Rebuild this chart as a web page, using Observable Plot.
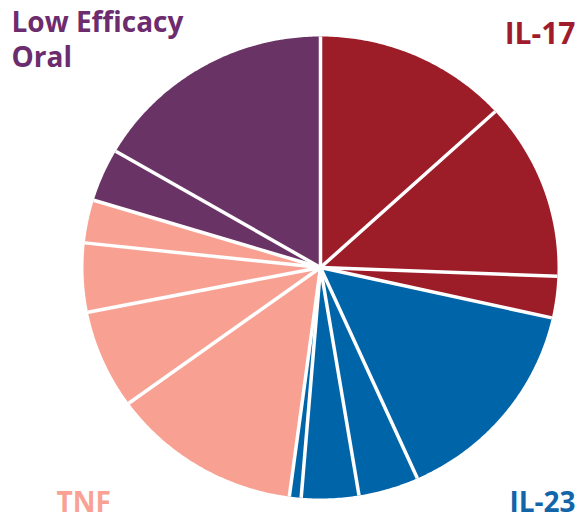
<!DOCTYPE html>
<html><head><meta charset="utf-8">
<script src="https://cdn.jsdelivr.net/npm/d3@7"></script>
<script src="https://cdn.jsdelivr.net/npm/@observablehq/plot@0.6"></script>
<style>body{margin:0;background:#fff} #chart svg{display:block}</style>
</head><body><div id="chart"></div>
<script>
// Slices, clockwise from 12 o'clock (percent of whole)
const sliceGroups = ["IL-17","IL-17","IL-17","IL-23","IL-23","IL-23","IL-23","TNF","TNF","TNF","TNF","Low Efficacy Oral","Low Efficacy Oral"];
const sliceValues = [13.2, 12.4, 2.9, 14.8, 4.1, 3.9, 0.8, 12.9, 6.9, 4.8, 3.0, 3.7, 16.6];

const groupNames  = ["IL-17", "IL-23", "TNF", "Low Efficacy Oral"];
const groupColors = ["#9c1c28", "#0064a8", "#f8a192", "#6a3366"];
const labelColors = ["#a01c2c", "#1265a8", "#f9a294", "#6c2c6e"];
const labelTexts  = ["IL-17", "IL-23", "TNF", "Low Efficacy\nOral"];

const W = 580, H = 519;
const cx = 320, cy = 267, rx = 237, ry = 231;

const arcs = d3.pie().sort(null).value(d => d)(sliceValues);
const poly = [];
const seps = [];
arcs.forEach((a, i) => {
  const g = sliceGroups[i];
  poly.push({i, g, x: 0, y: 0});
  const n = Math.max(2, Math.ceil((a.endAngle - a.startAngle) / 0.01));
  for (let k = 0; k <= n; k++) {
    const t = a.startAngle + (a.endAngle - a.startAngle) * k / n;
    poly.push({i, g, x: Math.sin(t), y: Math.cos(t)});
  }
  poly.push({i, g, x: 0, y: 0});
  seps.push({x: Math.sin(a.startAngle), y: Math.cos(a.startAngle)});
});

const labels = groupNames.map((g, i) => ({g, text: labelTexts[i], color: labelColors[i]}));
const L = Object.fromEntries(labels.map(d => [d.g, d]));

const chart = Plot.plot({
  width: W, height: H,
  margin: 0,
  x: {domain: [-cx / rx, (W - cx) / rx], axis: null},
  y: {domain: [-(H - cy) / ry, cy / ry], axis: null},
  color: {domain: groupNames, range: groupColors},
  marks: [
    Plot.line(poly, {x: "x", y: "y", z: "i", fill: "g", stroke: "none", curve: "linear"}),
    Plot.link(seps, {x1: 0, y1: 0, x2: "x", y2: "y", stroke: "white", strokeWidth: 3.5}),
    Plot.text([L["Low Efficacy Oral"]], {text: "text", fill: "color", frameAnchor: "top-left", textAnchor: "start", lineAnchor: "top", dx: 11, dy: 7, fontSize: 28, fontWeight: 700, lineHeight: 1.24, fontFamily: "Open Sans"}),
    Plot.text([L["IL-17"]], {text: "text", fill: "color", frameAnchor: "top-right", textAnchor: "end", lineAnchor: "top", dx: -5, dy: 22, fontSize: 30, fontWeight: 700, fontFamily: "Open Sans"}),
    Plot.text([L["TNF"]], {text: "text", fill: "color", frameAnchor: "bottom-left", textAnchor: "start", lineAnchor: "bottom", dx: 56, dy: -8, fontSize: 28, fontWeight: 700, fontFamily: "Open Sans"}),
    Plot.text([L["IL-23"]], {text: "text", fill: "color", frameAnchor: "bottom-right", textAnchor: "end", lineAnchor: "bottom", dx: -5, dy: -8, fontSize: 28, fontWeight: 700, fontFamily: "Open Sans"})
  ]
});
document.getElementById("chart").appendChild(chart);
</script>
</body></html>
